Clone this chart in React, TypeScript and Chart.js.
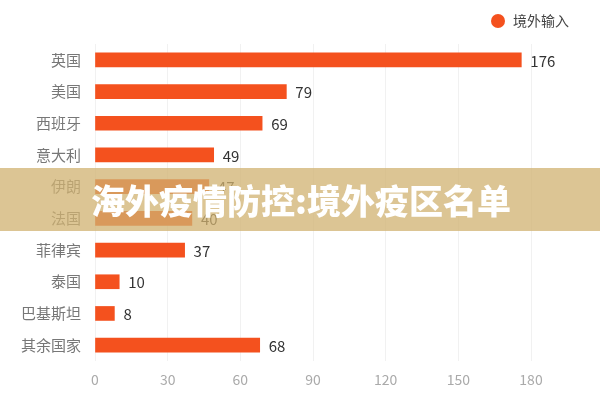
import React, { useEffect, useRef } from "react";
import { Chart, registerables } from "chart.js";

Chart.register(...registerables);

const categories = ["英国", "美国", "西班牙", "意大利", "伊朗", "法国", "菲律宾", "泰国", "巴基斯坦", "其余国家"];
const values = [176, 79, 69, 49, 47, 40, 37, 10, 8, 68];
const seriesName = "境外输入";
const titleText = "海外疫情防控:境外疫区名单";
const xMin = 0;
const xMax = 180;
const xStep = 30;

const FONT = '"Noto Sans CJK SC", "Noto Sans", sans-serif';
const BAR_COLOR = "#F4511E";

export default function App() {
  const ref = useRef<HTMLCanvasElement | null>(null);

  useEffect(() => {
    if (!ref.current) return;
    const valueLabels = {
      id: "valueLabels",
      afterDatasetsDraw(chart: any) {
        const ctx = chart.ctx;
        const meta = chart.getDatasetMeta(0);
        ctx.save();
        ctx.font = `15px ${FONT}`;
        ctx.fillStyle = "#333";
        ctx.textAlign = "left";
        ctx.textBaseline = "middle";
        meta.data.forEach((bar: any, i: number) => {
          ctx.fillText(String(values[i]), bar.x + 9, bar.y + 1);
        });
        // legend
        ctx.beginPath();
        ctx.arc(498, 21, 7, 0, Math.PI * 2);
        ctx.fillStyle = BAR_COLOR;
        ctx.fill();
        ctx.font = `14px ${FONT}`;
        ctx.fillStyle = "#444";
        ctx.fillText(seriesName, 513, 21);
        ctx.restore();
      },
    };

    const chart = new Chart(ref.current, {
      type: "bar",
      data: {
        labels: categories,
        datasets: [
          {
            label: seriesName,
            data: values,
            backgroundColor: BAR_COLOR,
            barThickness: 14,
          },
        ],
      },
      options: {
        animation: false,
        responsive: false,
        indexAxis: "y",
        layout: { padding: { top: 44, right: 69, left: 0, bottom: 0 } },
        plugins: {
          legend: { display: false },
          tooltip: { enabled: false },
        },
        scales: {
          x: {
            min: xMin,
            max: xMax,
            ticks: {
              stepSize: xStep,
              color: "#aaa",
              font: { family: FONT, size: 14 },
              padding: 10,
            },
            grid: { color: "#f1f1f1", drawTicks: false },
            border: { display: false },
            afterFit(scale: any) {
              scale.height = 39;
            },
          },
          y: {
            ticks: {
              color: "#777",
              font: { family: FONT, size: 15 },
              padding: 6,
            },
            grid: { display: false },
            border: { display: false },
            afterFit(scale: any) {
              scale.width = 95;
            },
          },
        },
      },
      plugins: [valueLabels],
    } as any);
    return () => chart.destroy();
  }, []);

  return (
    <div style={{ position: "fixed", left: 0, top: 0, width: 600, height: 400, background: "#fff" }}>
      <canvas ref={ref} width={600} height={400} style={{ width: 600, height: 400 }} />
      <div
        style={{
          position: "absolute",
          left: 0,
          top: 168,
          width: 600,
          height: 63,
          background: "rgba(208,178,112,0.75)",
          display: "flex",
          alignItems: "center",
          justifyContent: "center",
          color: "#fff",
          fontFamily: FONT,
          fontWeight: 900,
          fontSize: 34,
          letterSpacing: 0,
          paddingLeft: 2,
          boxSizing: "border-box",
        }}
      >
        {titleText}
      </div>
    </div>
  );
}
